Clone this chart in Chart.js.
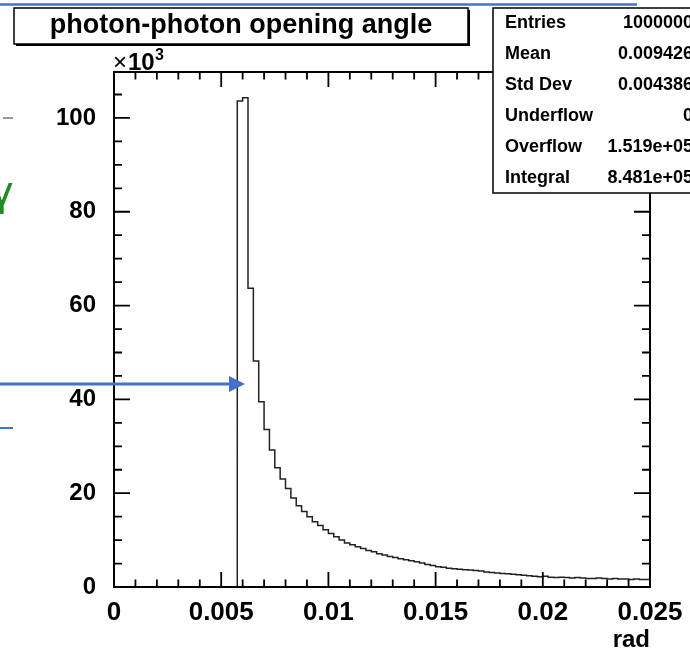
<!DOCTYPE html>
<html>
<head>
<meta charset="utf-8">
<script src="https://cdn.jsdelivr.net/npm/chart.js@4/dist/chart.umd.min.js"></script>
<style>
  html, body { margin: 0; padding: 0; background: #fff; }
</style>
</head>
<body>
<canvas id="hist" width="690" height="650"></canvas>
<script>
// Histogram binning, in rad
const binLow = 0;
const binWidth = 0.00025;

// Bin contents (units of 10^3 entries), 100 bins from 0 to 0.025
const binContents = [
    0, 0, 0, 0, 0, 0, 0, 0, 0, 0,
    0, 0, 0, 0, 0, 0, 0, 0, 0, 0,
    0, 0, 0, 103.6, 104.3, 63.7, 48.2, 39.5, 33.6, 29.2,
    25.4, 23.0, 21.0, 19.0, 17.3, 16.1, 15.0, 13.9, 13.1, 12.2,
    11.4, 10.7, 10.0, 9.4, 9.0, 8.6, 8.2, 7.8, 7.5, 7.1,
    6.8, 6.5, 6.3, 6.0, 5.8, 5.6, 5.4, 5.1, 4.8, 4.6,
    4.3, 4.2, 4.0, 3.9, 3.8, 3.7, 3.6, 3.5, 3.4, 3.2,
    3.1, 3.0, 2.9, 2.8, 2.7, 2.6, 2.5, 2.4, 2.3, 2.2,
    2.3, 2.1, 2.0, 2.1, 2.0, 1.9, 2.0, 1.9, 1.8, 1.8,
    1.9, 1.8, 1.7, 1.8, 1.7, 1.7, 1.6, 1.7, 1.6, 1.6
];

// Axis ticks
const xTickValues = [0, 0.005, 0.01, 0.015, 0.02, 0.025];
const yTickValues = [0, 20, 40, 60, 80, 100];
const xMinorStep = 0.001;
const yMinorStep = 5;
const yMax = 109.8;

// Title and stats box text
const histTitle = 'photon-photon opening angle';
const statLabels = ['Entries', 'Mean', 'Std Dev', 'Underflow', 'Overflow', 'Integral'];
const statValues = ['1000000', '0.009426', '0.004386', '0', '1.519e+05', '8.481e+05'];

const FONT = '"Liberation Sans", Helvetica, Arial, sans-serif';
const SLIDE_BLUE = '#4472c4';

// Step points at the left edge of every bin, plus the right edge of the last one
const histPoints = binContents.map((v, i) => ({ x: binLow + i * binWidth, y: v }));
histPoints.push({ x: binLow + binContents.length * binWidth, y: binContents[binContents.length - 1] });

// ROOT style frame with inward ticks on all four sides
const frameTicks = {
    id: 'frameTicks',
    afterDatasetsDraw(chart) {
        const { ctx, chartArea: a, scales: { x, y } } = chart;
        ctx.save();
        ctx.strokeStyle = '#000';
        ctx.lineWidth = 1.8;
        ctx.beginPath();
        const nx = Math.round((x.max - x.min) / xMinorStep);
        for (let i = 0; i <= nx; i++) {
            const px = x.getPixelForValue(x.min + i * xMinorStep);
            const len = i % 5 === 0 ? 15 : 7.5;
            ctx.moveTo(px, a.bottom); ctx.lineTo(px, a.bottom - len);
            ctx.moveTo(px, a.top); ctx.lineTo(px, a.top + len);
        }
        const ny = Math.floor(y.max / yMinorStep);
        for (let i = 0; i <= ny; i++) {
            const py = y.getPixelForValue(i * yMinorStep);
            const len = i % 4 === 0 ? 16 : 8;
            ctx.moveTo(a.left, py); ctx.lineTo(a.left + len, py);
            ctx.moveTo(a.right, py); ctx.lineTo(a.right - len, py);
        }
        ctx.stroke();
        ctx.lineWidth = 2;
        ctx.strokeRect(a.left, a.top, a.right - a.left, a.bottom - a.top);

        // exponent of the y axis
        ctx.fillStyle = '#000';
        ctx.textBaseline = 'alphabetic';
        ctx.textAlign = 'left';
        ctx.font = '24px ' + FONT;
        ctx.fillText('\u00d7', a.left - 1, a.top - 2);
        ctx.font = 'bold 24px ' + FONT;
        ctx.fillText('10', a.left + 14, a.top - 2);
        ctx.font = 'bold 16px ' + FONT;
        ctx.fillText('3', a.left + 41, a.top - 12);
        ctx.restore();
    }
};

// Title box, stats box and the slide annotations around the plot
const overlays = {
    id: 'overlays',
    afterDraw(chart) {
        const ctx = chart.ctx;
        ctx.save();

        // slide line on top
        ctx.strokeStyle = SLIDE_BLUE;
        ctx.lineWidth = 2.5;
        ctx.beginPath();
        ctx.moveTo(0, 4.5); ctx.lineTo(637, 4.5);
        ctx.stroke();

        // title box
        ctx.fillStyle = '#000';
        ctx.fillRect(16, 10, 454, 36);
        ctx.fillStyle = '#fff';
        ctx.fillRect(14, 8, 454, 36);
        ctx.strokeStyle = '#000';
        ctx.lineWidth = 1.5;
        ctx.strokeRect(14, 8, 454, 36);
        ctx.fillStyle = '#000';
        ctx.font = 'bold 27px ' + FONT;
        ctx.textAlign = 'center';
        ctx.textBaseline = 'middle';
        ctx.fillText(histTitle, 241, 26);

        // stats box
        ctx.fillStyle = '#fff';
        ctx.fillRect(493, 8, 220, 185);
        ctx.strokeRect(493, 8, 220, 185);
        ctx.fillStyle = '#000';
        ctx.font = 'bold 18px ' + FONT;
        statLabels.forEach((label, i) => {
            const ly = 23 + i * 31;
            ctx.textAlign = 'left';
            ctx.fillText(label, 505, ly);
            ctx.textAlign = 'right';
            ctx.fillText(statValues[i], 693, ly);
        });

        // arrow pointing at the histogram edge
        ctx.strokeStyle = SLIDE_BLUE;
        ctx.fillStyle = SLIDE_BLUE;
        ctx.lineWidth = 3;
        ctx.beginPath();
        ctx.moveTo(0, 384); ctx.lineTo(230, 384);
        ctx.stroke();
        ctx.beginPath();
        ctx.moveTo(245, 384); ctx.lineTo(229, 376); ctx.lineTo(229, 392);
        ctx.closePath();
        ctx.fill();

        ctx.lineWidth = 2;
        ctx.beginPath();
        ctx.moveTo(0, 428); ctx.lineTo(13, 428);
        ctx.stroke();

        // cut-off slide marks on the left
        ctx.strokeStyle = '#999';
        ctx.lineWidth = 2;
        ctx.beginPath();
        ctx.moveTo(3, 118); ctx.lineTo(13, 118);
        ctx.stroke();
        ctx.fillStyle = '#1e8c1e';
        ctx.font = '40px "DejaVu Sans", sans-serif';
        ctx.textAlign = 'left';
        ctx.textBaseline = 'alphabetic';
        ctx.fillText('\u03b3', -10, 205);

        ctx.restore();
    }
};

new Chart(document.getElementById('hist'), {
    type: 'line',
    data: {
        datasets: [{
            data: histPoints,
            stepped: 'before',
            borderColor: '#222',
            borderWidth: 1.5,
            pointRadius: 0,
            fill: false
        }]
    },
    options: {
        responsive: false,
        animation: false,
        events: [],
        layout: { padding: { top: 72, right: 40, left: 0, bottom: 0 } },
        plugins: {
            legend: { display: false },
            tooltip: { enabled: false }
        },
        scales: {
            x: {
                type: 'linear',
                min: 0,
                max: 0.025,
                grid: { display: false },
                border: { display: false },
                afterBuildTicks: scale => { scale.ticks = xTickValues.map(v => ({ value: v })); },
                afterFit: scale => { scale.height = 63; },
                ticks: {
                    color: '#000',
                    padding: 2,
                    maxRotation: 0,
                    font: { family: FONT, size: 26, weight: 'bold' },
                    callback: v => String(+v.toFixed(4))
                },
                title: {
                    display: true,
                    text: 'rad',
                    align: 'end',
                    color: '#000',
                    padding: { top: 0, bottom: 0 },
                    font: { family: FONT, size: 24, weight: 'bold', lineHeight: 0.8 }
                }
            },
            y: {
                min: 0,
                max: yMax,
                grid: { display: false },
                border: { display: false },
                afterBuildTicks: scale => { scale.ticks = yTickValues.map(v => ({ value: v })); },
                afterFit: scale => { scale.width = 114; },
                ticks: {
                    color: '#000',
                    padding: 10,
                    font: { family: FONT, size: 24, weight: 'bold' },
                    callback: v => String(v)
                }
            }
        }
    },
    plugins: [frameTicks, overlays]
});
</script>
</body>
</html>
